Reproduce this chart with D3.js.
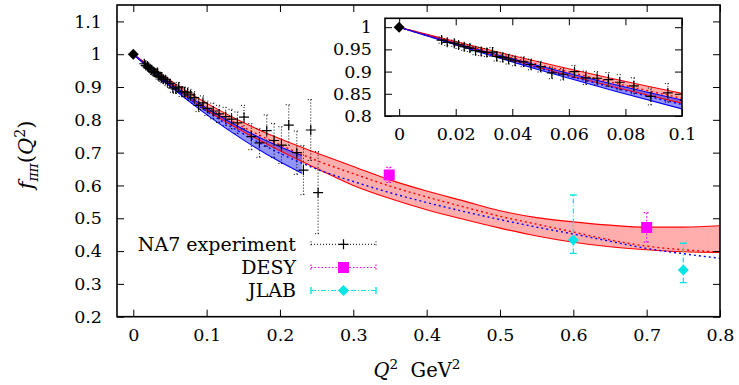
<!DOCTYPE html>
<html>
<head>
<meta charset="utf-8">
<script src="https://cdn.jsdelivr.net/npm/d3@7"></script>
<style>
  body { margin: 0; background: #fff; }
</style>
</head>
<body>
<svg id="chart" width="739" height="385" font-family="'DejaVu Serif', serif"></svg>
<script>
// theory bands, sampled in Q^2 (GeV^2)
const qGrid = [0, 0.05, 0.1, 0.15, 0.2, 0.25, 0.3, 0.35, 0.4, 0.45, 0.5, 0.55, 0.6, 0.65, 0.7, 0.75, 0.8];
const redUpper = [1, 0.921, 0.851, 0.792, 0.742, 0.699, 0.658, 0.617, 0.583, 0.553, 0.523, 0.502, 0.489, 0.479, 0.473, 0.473, 0.477];
const redLower = [1, 0.908, 0.829, 0.764, 0.706, 0.652, 0.600, 0.560, 0.526, 0.497, 0.470, 0.446, 0.427, 0.413, 0.404, 0.398, 0.396];
const redCentral = [1, 0.915, 0.840, 0.778, 0.724, 0.676, 0.636, 0.598, 0.565, 0.535, 0.506, 0.482, 0.458, 0.434, 0.415, 0.404, 0.397];
const blueCentral = [1, 0.907, 0.826, 0.757, 0.698, 0.650, 0.612, 0.578, 0.548, 0.521, 0.496, 0.473, 0.452, 0.430, 0.408, 0.392, 0.378];

const qGridBlue = [0, 0.05, 0.1, 0.15, 0.2, 0.23];
const blueUpper = [1, 0.912, 0.836, 0.771, 0.718, 0.691];
const blueLower = [1, 0.903, 0.816, 0.739, 0.672, 0.637];

// NA7 experiment
const na7Q2 = [0.015, 0.017, 0.0195, 0.021, 0.023, 0.025, 0.027, 0.029, 0.031, 0.033,
  0.0345, 0.0366, 0.0387, 0.041, 0.044, 0.0466, 0.050, 0.054, 0.058, 0.062,
  0.066, 0.070, 0.074, 0.078, 0.083, 0.089, 0.095, 0.101, 0.109, 0.117,
  0.126, 0.134, 0.142, 0.151, 0.161, 0.172, 0.182, 0.192, 0.202, 0.212,
  0.223, 0.232, 0.242, 0.252];
const na7F = [0.971, 0.966, 0.964, 0.960, 0.956, 0.953, 0.947, 0.945, 0.943, 0.944,
  0.934, 0.932, 0.928, 0.924, 0.922, 0.916, 0.911, 0.897, 0.894, 0.900,
  0.886, 0.885, 0.882, 0.876, 0.868, 0.844, 0.852, 0.835, 0.827, 0.818,
  0.810, 0.802, 0.791, 0.808, 0.749, 0.730, 0.767, 0.737, 0.723, 0.784,
  0.700, 0.647, 0.769, 0.578];
const na7Err = [0.007, 0.007, 0.007, 0.008, 0.008, 0.008, 0.009, 0.009, 0.009, 0.010,
  0.010, 0.010, 0.011, 0.011, 0.011, 0.012, 0.012, 0.013, 0.013, 0.014,
  0.015, 0.015, 0.016, 0.017, 0.018, 0.019, 0.021, 0.022, 0.024, 0.026,
  0.028, 0.030, 0.033, 0.036, 0.040, 0.044, 0.048, 0.052, 0.056, 0.062,
  0.066, 0.075, 0.093, 0.125];

// DESY
const desyQ2 = [0.349, 0.700];
const desyF = [0.632, 0.472];
const desyErr = [0.023, 0.045];

// JLAB
const jlabQ2 = [0.600, 0.750];
const jlabF = [0.434, 0.342];
const jlabErrUp = [0.137, 0.082];
const jlabErrDown = [0.041, 0.038];

// normalisation point
const normQ2 = [0];
const normF = [1];

const xTicksMain = [0, 0.1, 0.2, 0.3, 0.4, 0.5, 0.6, 0.7, 0.8];
const yTicksMain = [0.2, 0.3, 0.4, 0.5, 0.6, 0.7, 0.8, 0.9, 1, 1.1];
const xTicksInset = [0, 0.02, 0.04, 0.06, 0.08, 0.1];
const yTicksInset = [0.8, 0.85, 0.9, 0.95, 1];
const legendLabels = ["NA7 experiment", "DESY", "JLAB"];

const svg = d3.select("#chart");
const FS = 17.5;
const cyan = "#00e6e6";
const magenta = "#ff00ff";

const x = d3.scaleLinear().domain([-0.0222, 0.8]).range([117, 720]);
const y = d3.scaleLinear().domain([0.2, 1.15]).range([316.7, 5]);
const xi = d3.scaleLinear().domain([-0.005, 0.1]).range([385, 682]);
const yi = d3.scaleLinear().domain([0.8, 1.02]).range([116, 18.3]);

const defs = svg.append("defs");

function crossPath(s) { return `M${-s},0H${s}M0,${-s}V${s}`; }
function diamondPath(s) { return `M0,${-s}L${s},0L0,${s}L${-s},0Z`; }

function drawPanel(id, sx, sy) {
  const [x0, x1] = sx.range();
  const [y0, y1] = sy.range();
  defs.append("clipPath").attr("id", id)
    .append("rect").attr("x", x0).attr("y", y1).attr("width", x1 - x0).attr("height", y0 - y1);

  const g = svg.append("g").attr("clip-path", `url(#${id})`);

  const red = qGrid.map((q, i) => ({ q, hi: redUpper[i], lo: redLower[i], c: redCentral[i], b: blueCentral[i] }));
  const blue = qGridBlue.map((q, i) => ({ q, hi: blueUpper[i], lo: blueLower[i] }));

  const area = d3.area().curve(d3.curveMonotoneX)
    .x(d => sx(d.q)).y0(d => sy(d.lo)).y1(d => sy(d.hi));
  const line = key => d3.line().curve(d3.curveMonotoneX).x(d => sx(d.q)).y(d => sy(d[key]));

  g.append("path").datum(red).attr("d", area).attr("fill", "#ff0000").attr("fill-opacity", 0.32);
  g.append("path").datum(blue).attr("d", area).attr("fill", "#0000ff").attr("fill-opacity", 0.42);

  ["hi", "lo"].forEach(k => {
    g.append("path").datum(red).attr("d", line(k)).attr("fill", "none").attr("stroke", "#ff0000").attr("stroke-width", 1.1);
    g.append("path").datum(blue).attr("d", line(k)).attr("fill", "none").attr("stroke", "#0000ff").attr("stroke-width", 1.1);
  });
  g.append("path").datum(red).attr("d", line("c")).attr("fill", "none")
    .attr("stroke", "#ff0000").attr("stroke-width", 1.4).attr("stroke-dasharray", "2,3");
  g.append("path").datum(red).attr("d", line("b")).attr("fill", "none")
    .attr("stroke", "#0000ff").attr("stroke-width", 1.4).attr("stroke-dasharray", "2,3");

  // NA7 error bars and crosses
  const na7 = na7Q2.map((q, i) => ({ q, f: na7F[i], e: na7Err[i] }));
  const eb = g.selectAll(".na7").data(na7).enter().append("g").attr("class", "na7");
  eb.append("path")
    .attr("d", d => `M${sx(d.q)},${sy(d.f - d.e)}V${sy(d.f + d.e)}` +
      `M${sx(d.q) - 3},${sy(d.f - d.e)}h6M${sx(d.q) - 3},${sy(d.f + d.e)}h6`)
    .attr("fill", "none").attr("stroke", "#000").attr("stroke-width", 1).attr("stroke-dasharray", "1,2");
  eb.append("path")
    .attr("transform", d => `translate(${sx(d.q)},${sy(d.f)})`)
    .attr("d", crossPath(5)).attr("stroke", "#000").attr("stroke-width", 1.2);

  // DESY
  const desy = desyQ2.map((q, i) => ({ q, f: desyF[i], e: desyErr[i] }));
  g.selectAll(".desyE").data(desy).enter().append("path")
    .attr("d", d => `M${sx(d.q)},${sy(d.f - d.e)}V${sy(d.f + d.e)}` +
      `M${sx(d.q) - 3},${sy(d.f - d.e)}h6M${sx(d.q) - 3},${sy(d.f + d.e)}h6`)
    .attr("fill", "none").attr("stroke", magenta).attr("stroke-width", 1.2).attr("stroke-dasharray", "1.5,2");
  g.selectAll(".desyP").data(desy).enter().append("rect")
    .attr("x", d => sx(d.q) - 5.5).attr("y", d => sy(d.f) - 5.5)
    .attr("width", 11).attr("height", 11).attr("fill", magenta);

  // JLAB
  const jlab = jlabQ2.map((q, i) => ({ q, f: jlabF[i], up: jlabErrUp[i], dn: jlabErrDown[i] }));
  g.selectAll(".jlabE").data(jlab).enter().append("path")
    .attr("d", d => `M${sx(d.q)},${sy(d.f - d.dn)}V${sy(d.f + d.up)}`)
    .attr("fill", "none").attr("stroke", cyan).attr("stroke-width", 1.2).attr("stroke-dasharray", "5,2,1,2");
  g.selectAll(".jlabC").data(jlab).enter().append("path")
    .attr("d", d => `M${sx(d.q) - 3.5},${sy(d.f - d.dn)}h7M${sx(d.q) - 3.5},${sy(d.f + d.up)}h7`)
    .attr("stroke", cyan).attr("stroke-width", 1.4);
  g.selectAll(".jlabP").data(jlab).enter().append("path")
    .attr("transform", d => `translate(${sx(d.q)},${sy(d.f)})`)
    .attr("d", diamondPath(5.5)).attr("fill", cyan);

  // normalisation point
  g.selectAll(".norm").data(normQ2).enter().append("path")
    .attr("transform", (d, i) => `translate(${sx(d)},${sy(normF[i])})`)
    .attr("d", diamondPath(5.5)).attr("fill", "#000");
}

function drawAxes(sx, sy, xTicks, yTicks, xFmt, yFmt, xPad, yPad) {
  const [x0, x1] = sx.range();
  const [y0, y1] = sy.range();
  const tick = 7;
  const gb = svg.append("g").attr("transform", `translate(0,${y0})`)
    .call(d3.axisBottom(sx).tickValues(xTicks).tickFormat(xFmt).tickSizeInner(-tick).tickSizeOuter(0).tickPadding(xPad));
  const gl = svg.append("g").attr("transform", `translate(${x0},0)`)
    .call(d3.axisLeft(sy).tickValues(yTicks).tickFormat(yFmt).tickSizeInner(-tick).tickSizeOuter(0).tickPadding(yPad));
  const gt = svg.append("g").attr("transform", `translate(0,${y1})`)
    .call(d3.axisTop(sx).tickValues(xTicks).tickFormat("").tickSizeInner(-tick).tickSizeOuter(0));
  const gr = svg.append("g").attr("transform", `translate(${x1},0)`)
    .call(d3.axisRight(sy).tickValues(yTicks).tickFormat("").tickSizeInner(-tick).tickSizeOuter(0));
  [gb, gl, gt, gr].forEach(a => {
    a.select(".domain").remove();
    a.selectAll("line").attr("stroke", "#000").attr("stroke-width", 1);
    a.attr("font-family", null).attr("font-size", FS);
    a.selectAll("text").attr("fill", "#000");
  });
  svg.append("rect").attr("x", x0).attr("y", y1).attr("width", x1 - x0).attr("height", y0 - y1)
    .attr("fill", "none").attr("stroke", "#000").attr("stroke-width", 1.6);
}

const fmt = d => d3.format("")(+d.toFixed(2));

// main panel
drawPanel("clipMain", x, y);
drawAxes(x, y, xTicksMain, yTicksMain, fmt, fmt, 12, 15);

// legend
const legendY = [244.3, 267.5, 290.5];
const legend = svg.append("g");
legendLabels.forEach((label, i) => {
  const ly = legendY[i];
  legend.append("text").attr("x", 296).attr("y", ly).attr("dy", "0.36em")
    .attr("text-anchor", "end").attr("font-size", 19).text(label);
  const lg = legend.append("g");
  if (i === 0) {
    lg.append("path").attr("d", `M311,${ly}H376M311,${ly - 3}v6M376,${ly - 3}v6`)
      .attr("stroke", "#000").attr("stroke-width", 1).attr("stroke-dasharray", "1,2");
    lg.append("path").attr("transform", `translate(343.5,${ly})`).attr("d", crossPath(5))
      .attr("stroke", "#000").attr("stroke-width", 1.2);
  } else if (i === 1) {
    lg.append("path").attr("d", `M311,${ly}H376M311,${ly - 3}v6M376,${ly - 3}v6`)
      .attr("stroke", magenta).attr("stroke-width", 1.2).attr("stroke-dasharray", "1.5,2");
    lg.append("rect").attr("x", 343.5 - 5.5).attr("y", ly - 5.5).attr("width", 11).attr("height", 11).attr("fill", magenta);
  } else {
    lg.append("path").attr("d", `M311,${ly}H376`)
      .attr("stroke", cyan).attr("stroke-width", 1.2).attr("stroke-dasharray", "5,2,1,2");
    lg.append("path").attr("d", `M311,${ly - 3.5}v7M376,${ly - 3.5}v7`).attr("stroke", cyan).attr("stroke-width", 1.4);
    lg.append("path").attr("transform", `translate(343.5,${ly})`).attr("d", diamondPath(5.5)).attr("fill", cyan);
  }
});

// inset panel
svg.append("rect").attr("x", 385).attr("y", 18.3).attr("width", 297).attr("height", 97.7).attr("fill", "#fff");
drawPanel("clipInset", xi, yi);
drawAxes(xi, yi, xTicksInset, yTicksInset, fmt, fmt, 12, 13);

// axis titles
const xt = svg.append("text").attr("x", 417).attr("y", 377).attr("text-anchor", "middle").attr("font-size", 19.5)
  .attr("xml:space", "preserve");
xt.append("tspan").attr("font-style", "italic").text("Q");
xt.append("tspan").attr("font-size", 13.5).attr("dy", -8).text("2");
xt.append("tspan").attr("dy", 8).text("\u00a0\u00a0GeV");
xt.append("tspan").attr("font-size", 13.5).attr("dy", -8).text("2");

const yt = svg.append("text").attr("transform", "translate(33,155) rotate(-90)")
  .attr("text-anchor", "middle").attr("font-size", 21);
yt.append("tspan").attr("font-style", "italic").text("f");
yt.append("tspan").attr("font-style", "italic").attr("font-size", 14).attr("dy", 5).text("ππ");
yt.append("tspan").attr("dy", -5).text("(");
yt.append("tspan").attr("font-style", "italic").text("Q");
yt.append("tspan").attr("font-size", 14).attr("dy", -8).text("2");
yt.append("tspan").attr("dy", 8).text(")");
</script>
</body>
</html>
